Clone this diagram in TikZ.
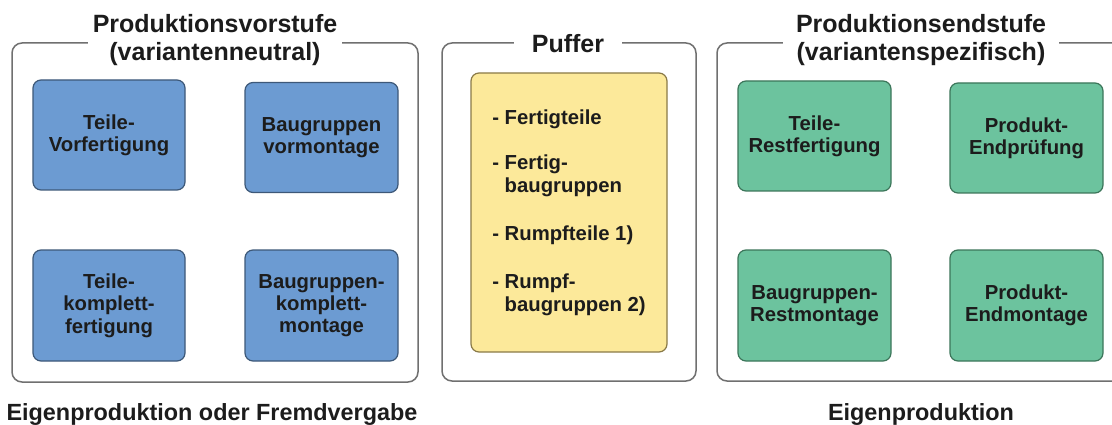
\documentclass[tikz,border=0pt]{standalone}
\usepackage{fontspec}
\setmainfont{Liberation Sans}
\definecolor{txt}{HTML}{1C1C1C}
\definecolor{framegray}{HTML}{707070}
\definecolor{bluefill}{HTML}{6C9BD2}
\definecolor{blueline}{HTML}{3D5878}
\definecolor{greenfill}{HTML}{6CC39E}
\definecolor{greenline}{HTML}{3C765A}
\definecolor{yellowfill}{HTML}{FCE99A}
\definecolor{yellowline}{HTML}{8A7A48}
\tikzset{
  frame/.style={draw=framegray, line width=1.5pt, rounded corners=10pt, fill=none, inner sep=0pt},
  title/.style={fill=white, text=txt, align=center, inner ysep=0pt,
    font=\fontsize{25}{28}\selectfont\bfseries},
  stepbox/.style={rounded corners=8pt, line width=1.2pt, text=txt, align=center,
    minimum width=152pt, minimum height=110pt, inner sep=0pt,
    font=\fontsize{20.3}{22.3}\selectfont\bfseries},
  bluebox/.style={stepbox, draw=blueline, fill=bluefill},
  greenbox/.style={stepbox, draw=greenline, fill=greenfill},
  bottomlabel/.style={text=txt, inner sep=0pt, anchor=base,
    font=\fontsize{23.4}{27}\selectfont\bfseries},
}
\begin{document}
\begin{tikzpicture}[x=1pt, y=-1pt]
\clip (0,0) rectangle (1112,425);
\fill[white] (0,0) rectangle (1112,425);

% frames
\node[frame, minimum width=406pt, minimum height=339pt] (fleft) at (215,212.5) {};
\node[frame, minimum width=254pt, minimum height=338pt] (fmid) at (569,212) {};
\node[frame, minimum width=408pt, minimum height=338pt] (fright) at (921,212) {};

% titles
\node[title, inner xsep=5pt, anchor=north] (tleft) at (215,14.5)
  {Produktionsvorstufe\\(variantenneutral)};
\node[title, inner xsep=17.5pt, anchor=north] (tmid) at (568,34)
  {Puffer};
\node[title, inner xsep=13pt, anchor=north] (tright) at (921,14.5)
  {Produktionsendstufe\\(variantenspezifisch)};

% left boxes
\node[bluebox] (b1) at (109,135) {Teile-\\Vorfertigung};
\node[bluebox, minimum width=153pt] (b2) at (321.5,137.5) {Baugruppen\\vormontage};
\node[bluebox, minimum height=111pt] (b3) at (109,305.5) {Teile-\\komplett-\\fertigung};
\node[bluebox, minimum width=153pt, minimum height=111pt] (b4) at (321.5,305.5) {Baugruppen-\\komplett-\\montage};

% buffer
\node[rounded corners=8pt, line width=1.2pt, draw=yellowline, fill=yellowfill,
  text=txt, align=left, inner sep=0pt, minimum width=196pt, minimum height=279pt,
  font=\fontsize{20.3}{23}\selectfont\bfseries] (buf) at (569,212.5)
  {- Fertigteile\\[22pt]
   - Fertig-\\
   \phantom{- }baugruppen\\[25pt]
   - Rumpfteile 1)\\[25pt]
   - Rumpf-\\
   \phantom{- }baugruppen 2)};

% right boxes
\node[greenbox, minimum width=153pt] (g1) at (814.5,136) {Teile-\\Restfertigung};
\node[greenbox, minimum width=153pt] (g2) at (1026.5,138) {Produkt-\\Endpr\"ufung};
\node[greenbox, minimum width=153pt, minimum height=111pt] (g3) at (814.5,305.5) {Baugruppen-\\Restmontage};
\node[greenbox, minimum width=153pt, minimum height=111pt] (g4) at (1026.5,305.5) {Produkt-\\Endmontage};

% bottom labels
\node[bottomlabel] (lleft) at (212,420) {Eigenproduktion oder Fremdvergabe};
\node[bottomlabel] (lright) at (921,420) {Eigenproduktion};
\end{tikzpicture}
\end{document}
